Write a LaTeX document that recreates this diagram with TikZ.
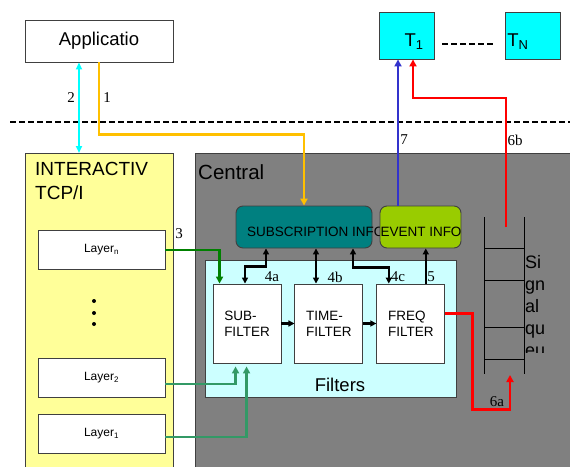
\documentclass[tikz,border=0pt]{standalone}
\usepackage{fontspec}
\setmainfont{Liberation Serif}
\setsansfont{Liberation Sans}
\usetikzlibrary{positioning,arrows.meta}
\tikzset{every picture/.style={/utils/exec={\sffamily}}}

\definecolor{appcyan}{RGB}{0,255,255}
\definecolor{subyellow}{RGB}{255,192,0}
\definecolor{tcpyellow}{RGB}{255,255,153}
\definecolor{centralgray}{RGB}{128,128,128}
\definecolor{filtercyan}{RGB}{204,255,255}
\definecolor{subteal}{RGB}{0,128,128}
\definecolor{eventgreen}{RGB}{153,204,0}
\definecolor{layergreen}{RGB}{0,128,0}
\definecolor{seagreen}{RGB}{51,153,102}
\definecolor{tblue}{RGB}{51,51,204}

\newcommand{\titlefont}{\fontsize{19}{24}\selectfont}
\newcommand{\boxfont}{\fontsize{18.5}{21.5}\selectfont}
\newcommand{\infofont}{\fontsize{13.5}{16}\selectfont}
\newcommand{\layerfont}{\fontsize{12}{14}\selectfont}
\newcommand{\numfont}{\rmfamily\fontsize{15}{15}\selectfont}

\tikzset{
  frame/.style={draw=black!75, line width=0.9pt},
  plain/.style={frame, fill=white, inner sep=0pt},
  term/.style={frame, fill=appcyan, minimum width=55pt, minimum height=47pt},
  layer/.style={plain, minimum width=127pt, minimum height=39pt, font=\layerfont},
  filter/.style={plain, minimum width=68pt, minimum height=79pt, align=left, font=\infofont},
  info/.style={frame, rounded corners=7pt, minimum height=42pt},
  infotext/.style={inner sep=0pt, font=\infofont},
  num/.style={inner sep=1pt, font=\numfont},
  sep/.style={line width=2pt, dash pattern=on 6pt off 3pt},
  queue/.style={line width=0.9pt},
  link/.style={line width=2.6pt, -{Triangle[length=7pt,width=7pt]}},
  dbl/.style={line width=2.2pt, {Triangle[length=6pt,width=6pt]}-{Triangle[length=6pt,width=6pt]}},
  fwd/.style={line width=2.2pt, -{Triangle[length=6pt,width=6pt]}}
}

\begin{document}
\begin{tikzpicture}[x=1pt,y=-1pt]
  \useasboundingbox (0,0) rectangle (570,466);
  \clip (0,0) rectangle (570,466);

  % top row
  \node [plain, minimum width=148pt, minimum height=42pt, font=\boxfont] (app) at (99,41) {Applicatio};
  \node [term] (t1) at (406.5,35.5) {};
  \node [term] (tn) at (532.5,35.5) {};
  \node [font=\boxfont] (t1txt) at (414,42) {T\textsubscript{1}};
  \node [font=\boxfont] (tntxt) at (518,42) {T\textsubscript{N}};
  \draw [sep, shorten <=8pt, shorten >=10pt] ([yshift=-8pt]t1.east) -- ([yshift=-8pt]tn.west);

  \draw [sep] (10,122) -- (570,122);

  % the two big blocks
  \node [frame, fill=tcpyellow, minimum width=148pt, minimum height=330pt, anchor=north west] (tcp) at (25,153) {};
  \node [frame, line width=1.2pt, fill=centralgray, minimum width=390pt, minimum height=330pt, anchor=north west] (central) at (195,153) {};
  \node [anchor=north west, align=left, inner sep=0pt, font=\titlefont] (tcptxt) at (35,162) {INTERACTIV\\TCP/I};
  \node [anchor=north west, inner sep=0pt, font=\fontsize{20.5}{24}\selectfont] (centraltxt) at (198,164) {Central};

  \node [layer] (layn) at (101.5,250) {Layer\textsubscript{n}};
  \node [layer] (lay2) at (101.5,377.5) {Layer\textsubscript{2}};
  \node [layer] (lay1) at (101.5,434) {Layer\textsubscript{1}};
  \foreach \y in {301,313,324}
    \fill (94,\y) circle (2pt);

  % filters
  \node [frame, fill=filtercyan, minimum width=251pt, minimum height=137pt] (filters) at (330.5,328.5) {};
  \node [font=\boxfont] (filterstxt) at (340,385) {Filters};
  \node [filter] (sub) at (247,323.5) {SUB-\\FILTER};
  \node [filter, right=13pt of sub] (time) {TIME-\\FILTER};
  \node [filter, right=13pt of time] (freq) {FREQ\\FILTER};
  \draw [fwd] (sub) -- (time);
  \draw [fwd] (time) -- (freq);

  \node [info, fill=subteal, minimum width=136pt] (subs) at (304,227) {};
  \node [infotext, anchor=west] (substxt) at (247,232) {SUBSCRIPTION INFO};
  \node [info, fill=eventgreen, minimum width=81pt] (ev) at (420.5,227) {};
  \node [infotext] (evtxt) at (421,232) {EVENT INFO};

  % signal queue
  \draw [queue] (484,217) -- (484,374) (524,217) -- (524,374);
  \foreach \y in {248,280,327,359}
    \draw [queue] (484,\y) -- (524,\y);
  \begin{scope}
    \clip (520,240) rectangle (570,352);
    \node [anchor=north west, align=left, inner sep=0pt, font=\fontsize{18}{22}\selectfont] (queuetxt) at (525,255) {Si\\gn\\al\\qu\\eu};
  \end{scope}
  \coordinate (qtop) at (506,227);
  \coordinate (qbot) at (510,375);

  % connectors
  \draw [line width=2pt, appcyan, {Triangle[length=7pt,width=6pt]}-{Triangle[length=7pt,width=6pt]}]
    ([xshift=-20pt]app.south) -- ([xshift=-20pt]app.south |- tcp.north);
  \draw [link, subyellow] (app.south) -- ++(0,72) -| (subs.north);
  \draw [link, line width=2pt, tblue] ([xshift=-22.5pt]ev.north) -- ([xshift=-22.5pt]ev.north |- t1.south);
  \draw [link, red] (qtop) -- ++(0,-129) -| ([xshift=6.5pt]t1.south);
  \draw [link, red] ([yshift=10pt]freq.east) -- ++(27,0) -- ++(0,96) -| (qbot);

  \draw [link, layergreen] (layn.east) -| ([xshift=7pt]sub.north west);
  \draw [link, seagreen, shorten >=3pt] ([yshift=-6.5pt]lay2.east) -| ([xshift=23pt]sub.south west);
  \draw [link, seagreen, shorten >=3pt] ([yshift=-3pt]lay1.east) -| ([xshift=34pt]sub.south west);

  \draw [dbl] ([xshift=-38pt]subs.south) -- ++(0,18) -| ([xshift=-2pt]sub.north);
  \draw [dbl] ([xshift=12pt]subs.south) -- ([xshift=12pt]subs.south |- time.north);
  \draw [dbl] ([xshift=49pt]subs.south) -- ++(0,19) -| ([xshift=-22pt]freq.north);
  \draw [fwd] ([xshift=15pt]freq.north) -- ([xshift=15pt]freq.north |- ev.south);

  % step numbers
  \node [num] (n1) at (107,98) {1};
  \node [num] (n2) at (71,98) {2};
  \node [num] (n3) at (179,234) {3};
  \node [num] (n4a) at (272,277) {4a};
  \node [num] (n4b) at (335,277) {4b};
  \node [num] (n4c) at (398,277) {4c};
  \node [num] (n5) at (431,277) {5};
  \node [num] (n6a) at (497,402) {6a};
  \node [num] (n6b) at (515,140) {6b};
  \node [num] (n7) at (404,140) {7};
\end{tikzpicture}
\end{document}
